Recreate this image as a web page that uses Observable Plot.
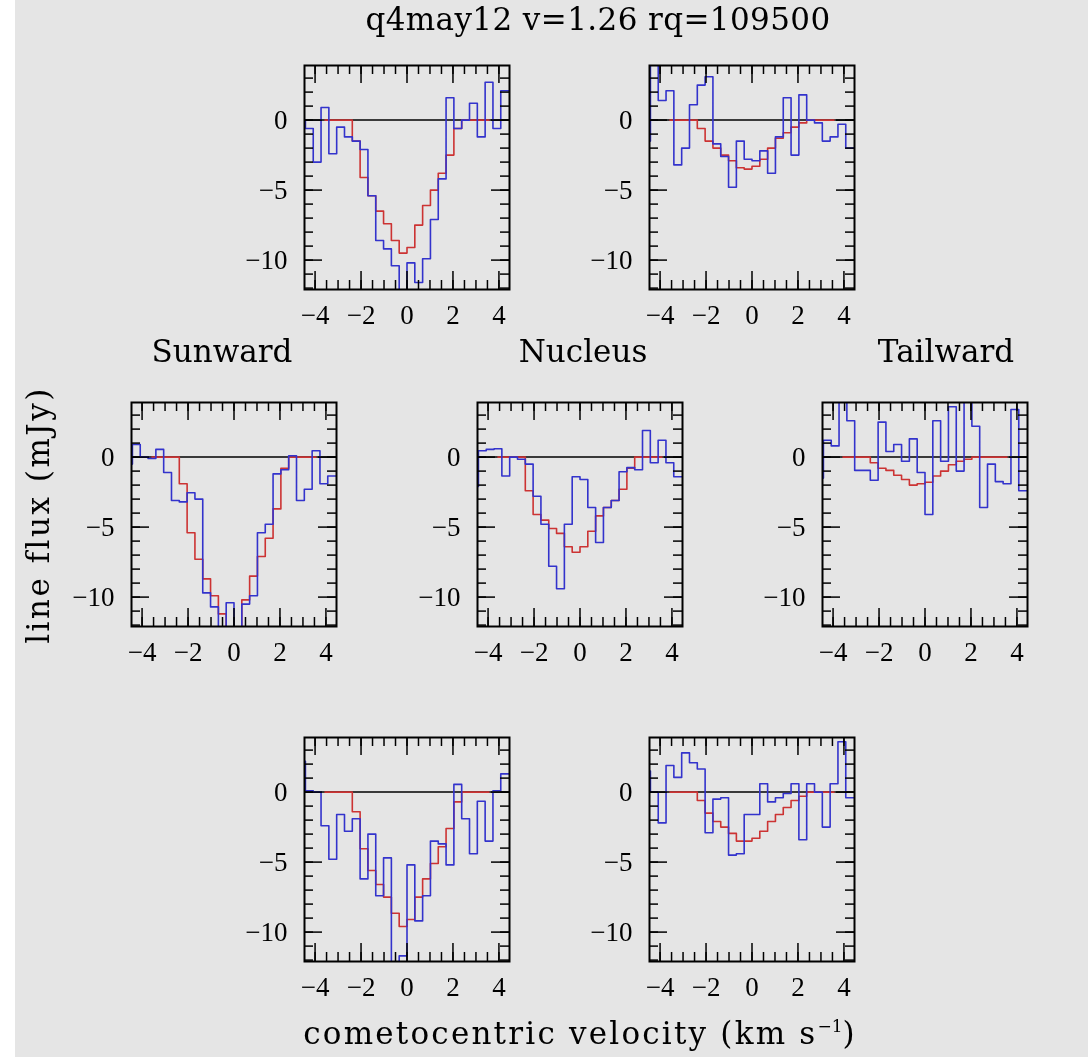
<!DOCTYPE html>
<html>
<head>
<meta charset="utf-8">
<script src="https://cdn.jsdelivr.net/npm/d3@7"></script>
<script src="https://cdn.jsdelivr.net/npm/@observablehq/plot@0.6"></script>
<style>
html, body { margin: 0; padding: 0; background: #fff; }
#page { position: relative; width: 1088px; height: 1057px; overflow: hidden; background: #fff;
  font-family: "DejaVu Serif", serif; color: #000; }
#bg { position: absolute; left: 15px; top: 0; width: 1073px; height: 1057px; background: #e5e5e5; }
.txt { position: absolute; white-space: nowrap; line-height: 1; transform: translateX(-50%); }
.panel { position: absolute; }
</style>
</head>
<body>
<div id="page"><div id="bg"></div></div>
<script>
// ---- data -------------------------------------------------------------
// channel centre velocities (km/s)
const velocity = [-4.59, -4.25, -3.91, -3.57, -3.23, -2.89, -2.55, -2.21, -1.87, -1.53, -1.19, -0.85, -0.51, -0.17,
                  0.17, 0.51, 0.85, 1.19, 1.53, 1.87, 2.21, 2.55, 2.89, 3.23, 3.57, 3.91, 4.25, 4.59];

// observed line flux (mJy), blue
const obsTopLeft   = [0, -0.6, -3.0, 0.9, -2.4, -0.5, -1.2, -1.5, -2.1, -5.4, -8.6, -9.2, -10.4, -12.6, -10.2, -11.6, -9.9, -7.1, -4.2, 1.6, -0.6, 0, 1.2, -1.2, 2.7, -0.6, 2.1, 2.1];
const obsTopRight  = [-1.5, 4.5, 1.4, 2.1, -3.2, -2.0, 1.1, 2.5, 3.1, -1.7, -2.6, -4.8, -1.5, -2.8, -2.9, -2.2, -3.8, -1.2, 1.6, -2.5, 1.8, 0, -0.2, -1.5, -1.2, -0.3, -2.0, -2.0];
const obsSunward   = [-0.5, 0.9, 0, -0.1, 0.55, -1.1, -3.1, -3.2, -2.55, -3.0, -9.7, -10.7, -12.6, -10.4, -12.6, -10.5, -9.9, -5.4, -4.8, -1.2, -0.9, 0.1, -3.1, -2.3, 0.45, -1.9, -1.35, -1.35];
const obsNucleus   = [-2.1, 0.45, 0.55, 0.6, -1.35, 0, -0.15, -0.5, -2.8, -4.8, -7.8, -9.4, -4.8, -1.4, -1.6, -3.6, -6.1, -3.6, -3.1, -1.05, -0.75, -0.9, 1.9, -0.4, 1.2, -0.4, -1.4, -1.4];
const obsTailward  = [-1.5, 1.2, 0.8, 4.5, 2.6, -0.95, -0.95, -1.65, 2.5, 0.4, 0.9, -0.3, 1.3, -1.1, -4.1, 2.6, -0.3, 3.6, -1.0, 4.5, 2.2, -3.6, -0.5, -1.75, -1.9, 3.4, -2.4, -2.4];
const obsBotLeft   = [2.2, 0.1, 0, -2.4, -4.8, -1.6, -2.8, -1.9, -6.2, -3.0, -7.4, -4.7, -12.6, -11.7, -5.2, -9.2, -7.4, -3.5, -3.7, -5.2, 0.55, -1.9, -4.4, -0.65, -3.5, 0.1, 1.3, 1.3];
const obsBotRight  = [1.5, 0, -2.2, 1.9, 1.05, 2.8, 2.1, 1.65, -2.9, -0.5, -0.4, -4.5, -4.4, -1.6, -1.6, 0.6, -0.7, -0.4, -0.1, 0.6, -3.4, 0.6, 0, -2.5, 0.6, 3.6, -0.4, -0.4];

// model line flux (mJy), red (null = not modelled)
const modTopLeft   = [null, null, null, 0, 0, 0, 0, -1.5, -4.1, -5.4, -6.5, -7.4, -8.6, -9.5, -9.1, -7.5, -6.1, -5.0, -3.8, -2.5, -0.6, 0, 0, 0, 0, null, null, null];
const modTopRight  = [null, null, null, 0, 0, 0, 0, -0.6, -1.5, -2.0, -2.5, -2.9, -3.4, -3.5, -3.3, -2.8, -2.0, -1.3, -0.9, -0.5, -0.2, 0, 0, 0, 0, null, null, null];
const modSunward   = [null, null, null, 0, 0, 0, 0, -1.9, -5.4, -7.3, -8.7, -9.9, -11.2, -12.4, -12.4, -10.2, -8.5, -7.1, -5.8, -3.7, -0.8, 0, 0, 0, 0, null, null, null];
const modNucleus   = [null, null, null, 0, 0, 0, 0, -2.4, -4.1, -4.5, -5.1, -5.45, -6.4, -6.8, -6.4, -5.3, -4.2, -3.6, -3.1, -2.3, -0.8, 0, 0, 0, 0, null, null, null];
const modTailward  = [null, null, null, 0, 0, 0, 0, -0.4, -0.8, -0.95, -1.3, -1.6, -2.0, -1.9, -1.8, -1.35, -1.0, -0.55, -0.3, -0.15, 0, 0, 0, 0, 0, null, null, null];
const modBotLeft   = [null, null, null, 0, 0, 0, 0, -1.4, -4.05, -5.6, -6.6, -7.5, -8.65, -9.6, -9.1, -7.5, -6.2, -5.1, -3.9, -2.6, -0.7, 0, 0, 0, 0, null, null, null];
const modBotRight  = [null, null, null, 0, 0, 0, 0, -0.6, -1.5, -2.1, -2.5, -2.95, -3.5, -3.5, -3.3, -2.8, -2.1, -1.6, -1.1, -0.6, -0.3, 0, 0, 0, 0, null, null, null];

// tick values
const xTickLabels = [-4, -2, 0, 2, 4];
const xMinorTicks = [-4, -3.5, -3, -2.5, -2, -1.5, -1, -0.5, 0, 0.5, 1, 1.5, 2, 2.5, 3, 3.5, 4];
const yTickLabels = [0, -5, -10];
const yMinorTicks = [3, 2, 1, 0, -1, -2, -3, -4, -5, -6, -7, -8, -9, -10, -11, -12];

// texts
const titleText = "q4may12 v=1.26 rq=109500";
const positionNames = ["Sunward", "Nucleus", "Tailward"];
const yLabelText = "line flux (mJy)";

// ---- layout -----------------------------------------------------------
const xDomain = [-4.46, 4.46];
const yDomain = [-12.1, 3.9];
const FW = 205, FH = 224, ML = 70, MR = 12, MT = 10, MB = 40;
const RED = "#cc3333", BLUE = "#3333cc";
const majorLen = 18, minorLen = 9; // px
const pxX = FW / (xDomain[1] - xDomain[0]);
const pxY = FH / (yDomain[1] - yDomain[0]);

const panels = [
  {obs: obsTopLeft,  mod: modTopLeft,  left: 304, top: 65},
  {obs: obsTopRight, mod: modTopRight, left: 649, top: 65},
  {obs: obsSunward,  mod: modSunward,  left: 131, top: 402},
  {obs: obsNucleus,  mod: modNucleus,  left: 477, top: 402},
  {obs: obsTailward, mod: modTailward, left: 822, top: 402},
  {obs: obsBotLeft,  mod: modBotLeft,  left: 304, top: 737},
  {obs: obsBotRight, mod: modBotRight, left: 649, top: 737}
];

function ticks() {
  const [y0, y1] = yDomain, [x0, x1] = xDomain;
  const s = {stroke: "black", strokeWidth: 1.5};
  const out = [];
  for (const [vals, len] of [[xMinorTicks, minorLen], [xTickLabels, majorLen]]) {
    const dy = len / pxY;
    out.push(Plot.ruleX(vals, {...s, y1: y0, y2: y0 + dy}));
    out.push(Plot.ruleX(vals, {...s, y1: y1, y2: y1 - dy}));
  }
  for (const [vals, len] of [[yMinorTicks, minorLen], [yTickLabels, majorLen]]) {
    const dx = len / pxX;
    out.push(Plot.ruleY(vals, {...s, x1: x0, x2: x0 + dx}));
    out.push(Plot.ruleY(vals, {...s, x1: x1, x2: x1 - dx}));
  }
  return out;
}

function makePanel(p) {
  const rows = velocity.map((v, i) => ({v, obs: p.obs[i], mod: p.mod[i]}));
  return Plot.plot({
    width: ML + FW + MR, height: MT + FH + MB,
    marginLeft: ML, marginRight: MR, marginTop: MT, marginBottom: MB,
    x: {domain: xDomain},
    y: {domain: yDomain},
    style: {background: "transparent", overflow: "visible", fontFamily: "'Liberation Serif', serif", color: "black"},
    marks: [
      Plot.ruleY([0], {stroke: "black", strokeWidth: 1.5}),
      Plot.line(rows.filter(d => d.mod != null), {x: "v", y: "mod", curve: "step", stroke: RED, strokeWidth: 1.6, clip: true}),
      Plot.line(rows, {x: "v", y: "obs", curve: "step", stroke: BLUE, strokeWidth: 1.6, clip: true, mixBlendMode: "multiply"}),
      ...ticks(),
      Plot.frame({stroke: "black", strokeWidth: 2}),
      Plot.axisX(xTickLabels, {anchor: "bottom", tickSize: 0, tickPadding: 15, fontSize: 27, label: null}),
      Plot.axisY(yTickLabels, {anchor: "left", tickSize: 0, tickPadding: 17, fontSize: 27, label: null})
    ]
  });
}

const page = document.getElementById("page");
for (const p of panels) {
  const div = document.createElement("div");
  div.className = "panel";
  div.style.left = (p.left - ML) + "px";
  div.style.top = (p.top - MT) + "px";
  div.appendChild(makePanel(p));
  page.appendChild(div);
}

function addText(html, x, top, size, ls, extra) {
  const d = document.createElement("div");
  d.className = "txt";
  d.innerHTML = html;
  d.style.left = x + "px";
  d.style.top = top + "px";
  d.style.fontSize = size + "px";
  d.style.letterSpacing = ls + "px";
  if (extra) Object.assign(d.style, extra);
  page.appendChild(d);
  return d;
}

addText(titleText, 598, 4, 31, 0.4);
const labelX = [222, 583, 946];
positionNames.forEach((n, i) => addText(n, labelX[i], 336, 31, 0));
addText('cometocentric velocity (km s<span style="font-size:17px;vertical-align:12px;letter-spacing:0">\u22121</span>)', 580, 1018, 31, 2.2);
addText(yLabelText, 38, 515, 31, 2.5, {transform: "translate(-50%, -50%) rotate(-90deg)"});
</script>
</body>
</html>
